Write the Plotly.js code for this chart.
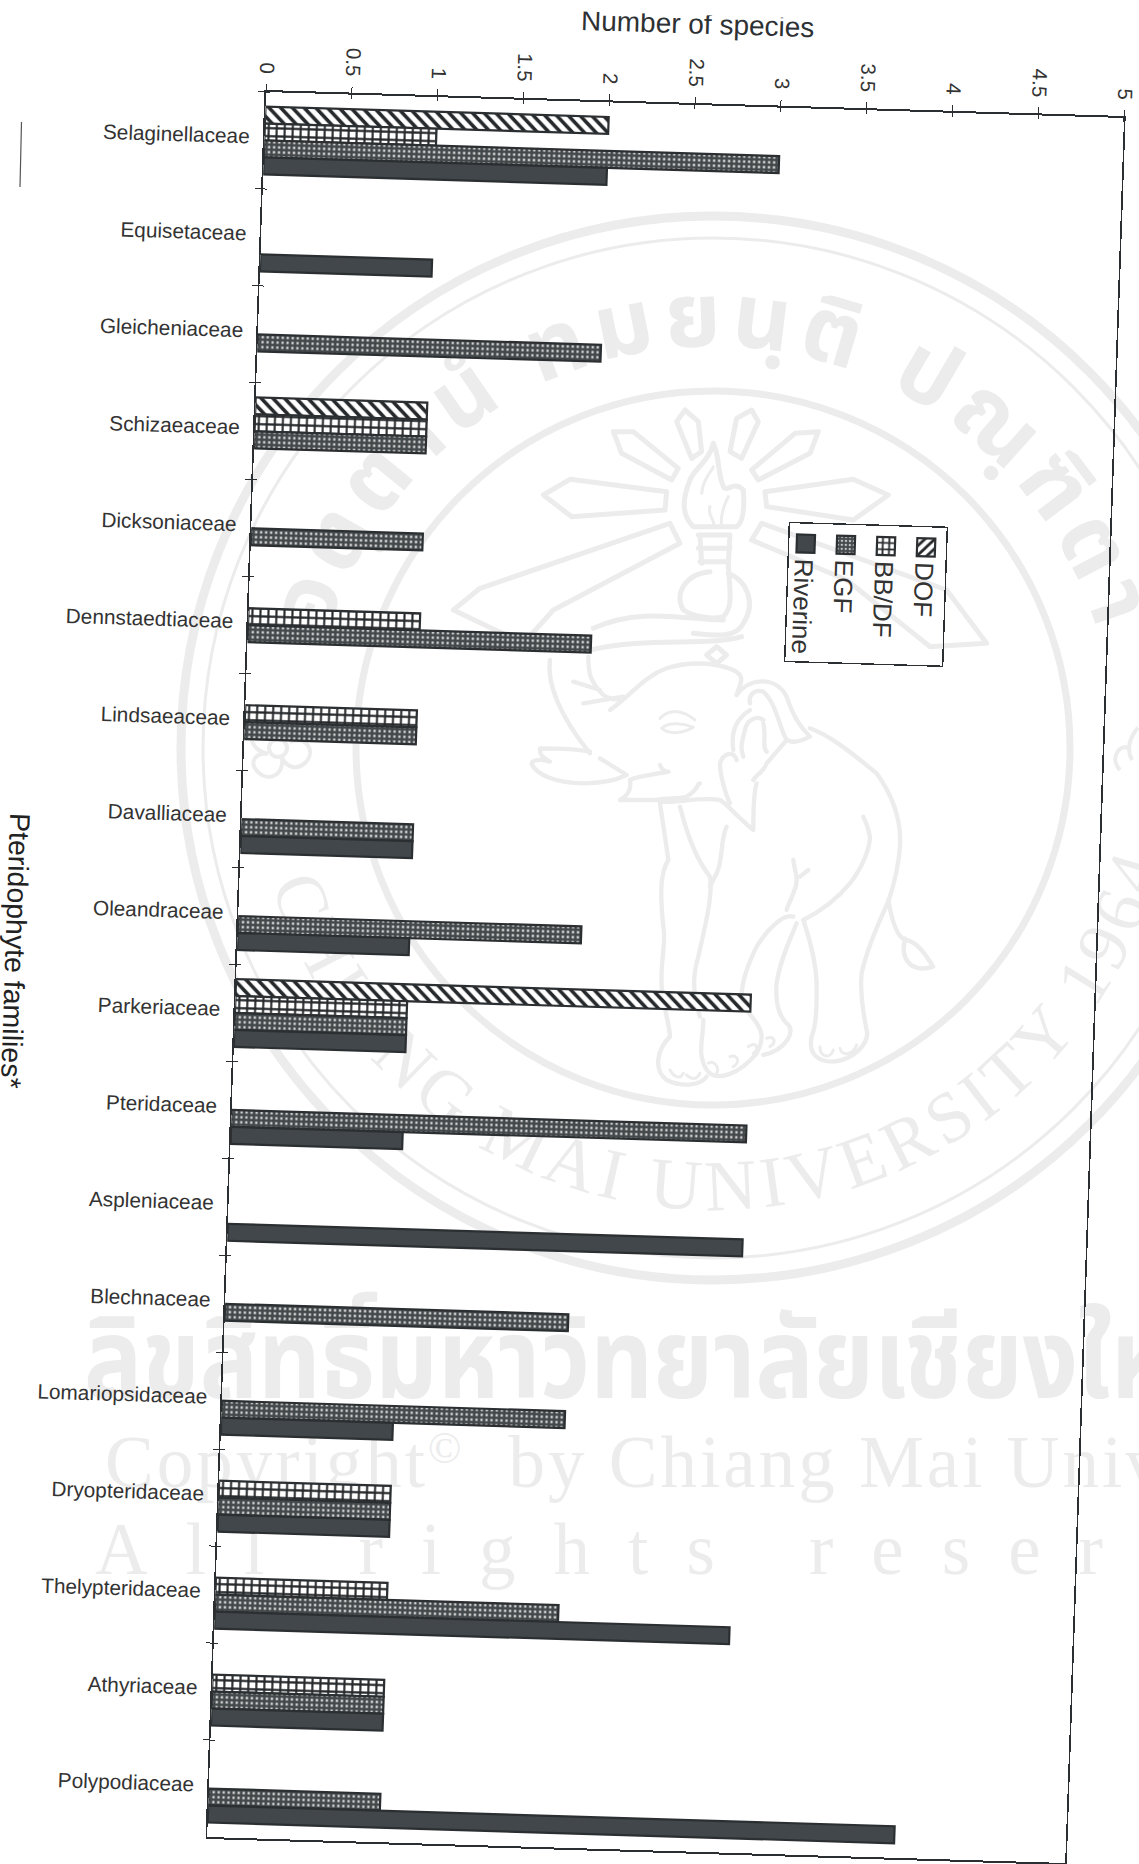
<!DOCTYPE html>
<html>
<head>
<meta charset="utf-8">
<script src="https://cdn.plot.ly/plotly-3.0.1.min.js"></script>
<style>
  html, body { margin: 0; padding: 0; background: #fff; width: 1139px; height: 1864px; overflow: hidden; }
  #seal { position: absolute; left: 0; top: 0; }
  /* The printed page sits slightly skewed on the scanner bed */
  #chart { position: absolute; left: 0; top: 0; transform-origin: 0 0;
           transform: matrix(1, 0.0303, -0.0337, 1, -10.97, -6.48); }
</style>
</head>
<body>
<svg id="seal" width="1139" height="1864" viewBox="0 0 1139 1864" xmlns="http://www.w3.org/2000/svg">
  <defs>
    <path id="arcTop" d="M 311 748 A 402 402 0 0 1 1115 748"/>
    <path id="arcBottom" d="M 251 748 A 462 462 0 0 0 1175 748"/>
  </defs>
  <g fill="none" stroke="#ececec">
    <circle cx="713" cy="748" r="532" stroke-width="9"/>
    <circle cx="713" cy="748" r="510" stroke-width="3"/>
    <circle cx="713" cy="748" r="357" stroke-width="7"/>
  </g>
  <g fill="#ececec">
    <text font-family="'Noto Sans Thai','Noto Sans','DejaVu Sans',sans-serif" font-size="90" font-weight="700" text-anchor="middle" letter-spacing="8">
      <textPath href="#arcTop" startOffset="50%">อตฺตานํ ทมยนฺติ ปณฺฑิตา</textPath>
    </text>
    <text font-family="'Liberation Serif',serif" font-size="72" text-anchor="middle" letter-spacing="6">
      <textPath href="#arcBottom" startOffset="51%">CHIANG MAI UNIVERSITY 1964</textPath>
    </text>
    <text x="84" y="1398" font-family="'Noto Sans Thai','Noto Sans','DejaVu Sans',sans-serif" font-size="112" font-weight="700" textLength="1150" lengthAdjust="spacingAndGlyphs">ลิขสิทธิ์มหาวิทยาลัยเชียงใหม่</text>
    <text x="105" y="1487" font-family="'Liberation Serif',serif" font-size="73" letter-spacing="3">Copyright<tspan font-size="44" dy="-24">©</tspan><tspan dy="24" dx="44">by Chiang Mai University</tspan></text>
    <text x="95" y="1574" font-family="'Liberation Serif',serif" font-size="73" letter-spacing="38">All rights reserved</text>
  </g>
  <!-- University seal: torch with rays -->
  <g transform="translate(480,380) scale(0.3333)" fill="none" stroke="#ececec" stroke-width="15" stroke-linejoin="round" stroke-linecap="round">
    <path d="M615 90 L590 125 L635 235 L665 215 L655 125 Z"/>
    <path d="M815 90 L770 115 L750 215 L785 235 L835 125 Z"/>
    <path d="M400 155 L460 155 L595 265 L575 300 L425 220 Z"/>
    <path d="M1015 155 L945 160 L815 270 L835 300 L990 220 Z"/>
    <path d="M190 345 L270 298 L560 335 L555 390 L275 410 Z"/>
    <path d="M1225 345 L1120 298 L855 335 L860 380 L1120 420 Z"/>
    <path d="M-80 690 L0 625 L570 430 L600 490 L220 690 L130 790 Z"/>
    <path d="M815 480 L845 430 L1400 630 L1520 790 L1350 800 L1100 600 Z"/>
    <path d="M700 190 C690 240 640 270 630 300 C610 350 600 400 640 440 L770 440 C800 420 790 340 790 330 C760 300 740 340 730 320 C710 270 720 230 700 190"/>
    <path d="M690 380 C680 410 710 420 700 440 M665 340 C670 290 700 270 700 260 M745 350 C730 380 720 410 725 440" stroke-width="9"/>
    <path d="M655 465 H750 M655 505 H750 M660 545 H745 M660 465 L665 550 M750 465 L745 550"/>
    <path d="M690 575 C620 580 580 640 610 690 C640 710 700 720 730 710 C760 680 750 640 745 555"/>
    <path d="M745 580 C800 600 830 670 790 730 C770 770 720 770 640 760"/>
    <path d="M340 745 C480 680 620 720 730 720 M330 810 C500 770 680 800 785 770"/>
    <path d="M680 825 L710 800 L740 825 L710 850 Z"/>
  </g>
  <!-- University seal: elephant outline -->
  <g transform="translate(500,640) scale(0.3333)" fill="none" stroke="#ececec" stroke-width="13" stroke-linejoin="round" stroke-linecap="round">
    <path d="M150 60 C140 130 180 230 270 340"/>
    <path d="M270 335 C220 325 150 325 120 325 C118 345 130 355 150 365 C120 355 95 360 95 372 C110 405 170 430 250 430 C310 430 350 420 380 405 L300 355"/>
    <path d="M265 50 C265 100 270 125 310 165 C330 180 350 180 370 175 M220 125 L300 150 M250 190 L370 170"/>
    <path d="M330 210 C400 160 430 110 500 85 C560 65 640 65 700 90 C740 110 720 130 710 165"/>
    <path d="M710 165 C750 110 830 110 860 170 C880 230 900 260 930 290 C900 305 880 310 860 300 C840 270 830 190 790 155 C760 145 745 170 750 190"/>
    <path d="M750 210 C720 230 690 260 700 330 M790 240 C770 225 740 240 735 270 C725 310 720 320 730 350 M790 250 C800 290 785 320 800 335"/>
    <path d="M930 265 C1000 290 1080 360 1130 400 C1180 470 1205 540 1200 620 C1195 690 1180 740 1165 785"/>
    <path d="M1165 780 C1175 840 1190 890 1215 900 C1250 900 1280 950 1300 980 C1270 990 1230 990 1215 950 C1205 920 1215 910 1215 895"/>
    <path d="M1165 785 C1130 860 1100 930 1085 1000 C1080 1050 1090 1120 1100 1170 C1110 1210 1060 1260 1000 1265 C950 1265 925 1240 935 1190 C950 1150 950 1100 950 1040 C950 980 930 900 910 840"/>
    <path d="M910 840 C950 820 1000 790 1050 730 C1090 680 1110 620 1110 590 C1105 560 1095 540 1090 530"/>
    <path d="M880 660 C885 700 900 720 880 760 C870 790 860 800 860 810 M900 710 L925 690"/>
    <path d="M880 830 C850 820 800 870 770 920 C740 980 725 1030 725 1070 C730 1110 760 1130 770 1150 C790 1180 790 1200 770 1240 C720 1300 650 1330 620 1290 C590 1240 610 1200 610 1140"/>
    <path d="M890 850 C870 900 840 960 830 1030 C825 1090 840 1130 860 1150 C890 1170 860 1230 790 1245"/>
    <path d="M480 490 C490 560 500 620 505 660 C480 700 480 760 490 860 C500 900 480 970 485 1040 C490 1100 510 1160 510 1190 C470 1230 460 1290 500 1320 C540 1340 600 1340 620 1310"/>
    <path d="M540 500 C560 580 590 660 630 710 C640 770 610 880 595 950 C580 1000 575 1050 600 1130"/>
    <path d="M680 560 C660 600 670 660 650 700 C640 720 635 730 630 740"/>
    <path d="M480 375 C490 400 510 395 505 395 C450 405 410 410 390 420 C395 450 380 470 360 480 L470 480 C500 470 530 480 560 470 C600 445 590 430 600 430"/>
    <path d="M480 485 C530 490 600 470 660 480 C680 490 700 520 760 570 C760 520 760 460 770 430"/>
    <path d="M660 370 C660 410 680 470 690 490 M660 370 C670 340 700 330 710 360 M760 420 C770 400 790 400 800 370 L860 300"/>
    <path d="M485 265 C500 250 540 245 580 262 C550 280 510 285 485 265 M480 235 C510 205 550 210 585 240" stroke-width="9"/>
    <path d="M510 1290 C520 1310 540 1320 550 1300 M560 1305 C575 1320 590 1320 600 1300 M650 1300 C660 1280 640 1260 625 1270 M700 1280 C720 1270 715 1240 690 1250 M760 1240 C780 1230 770 1200 745 1220 M810 1220 C830 1210 825 1185 800 1195 M960 1220 C960 1250 990 1260 1000 1230 M1020 1225 C1025 1250 1060 1245 1070 1215" stroke-width="9"/>
  </g>
  <!-- Corner flowers in the seal band -->
  <g fill="none" stroke="#ececec" stroke-width="4">
    <circle cx="278" cy="748" r="9"/>
    <path d="M278 722 C296 722 298 738 290 742 C306 736 316 750 306 762 C296 772 286 766 282 758 C284 776 268 782 258 772 C248 762 256 752 268 754 C252 750 246 736 258 728 C266 722 274 728 276 738"/>
    <path d="M1132 760 C1122 742 1140 726 1139 726 M1120 770 C1110 760 1118 744 1128 748"/>
  </g>
  <!-- Stray pen mark in the page margin -->
  <path d="M21.5 122 L20 187" stroke="#555" stroke-width="1.2" fill="none"/>
</svg>
<div id="chart"></div>
<script>
// Species counts per pteridophyte family in four forest types
const families = ['Selaginellaceae','Equisetaceae','Gleicheniaceae','Schizaeaceae','Dicksoniaceae',
  'Dennstaedtiaceae','Lindsaeaceae','Davalliaceae','Oleandraceae','Parkeriaceae','Pteridaceae',
  'Aspleniaceae','Blechnaceae','Lomariopsidaceae','Dryopteridaceae','Thelypteridaceae','Athyriaceae','Polypodiaceae'];
const dof      = [2,null,null,1,null,null,null,null,null,3,null,null,null,null,null,null,null,null];
const bbdf     = [1,null,null,1,null,1,1,null,null,1,null,null,null,null,1,1,1,null];
const egf      = [3,null,2,1,1,2,1,1,2,1,3,null,2,2,1,2,1,1];
const riverine = [2,1,null,null,null,null,null,1,1,1,1,3,null,1,1,3,1,4];
const xTicks = [0,0.5,1,1.5,2,2.5,3,3.5,4,4.5,5];

const INK = '#2b2f31';
const outline = { color: INK, width: 2.2 };

function series(name, values, marker) {
  return { type: 'bar', orientation: 'h', name: name, x: values, y: families, legendgroup: name,
           marker: Object.assign({ line: outline }, marker) };
}

const traces = [
  series('DOF', dof, { color: '#fff', pattern: { shape: '\\', size: 8.5, solidity: 0.42, fgcolor: '#26292b', bgcolor: '#fff' } }),
  series('BB/DF', bbdf, { color: '#fff', pattern: { shape: '+', size: 8, solidity: 0.45, fgcolor: '#26292b', bgcolor: '#fff' } }),
  series('EGF', egf, { color: '#555', pattern: { shape: '+', size: 5, solidity: 0.78, fgcolor: '#43484b', bgcolor: '#cfcfcf' } }),
  series('Riverine', riverine, { color: '#41474a' })
];

const layout = {
  width: 1200, height: 1920,
  margin: { l: 280, r: 62, t: 90, b: 85 },
  paper_bgcolor: 'rgba(0,0,0,0)', plot_bgcolor: 'rgba(0,0,0,0)',
  font: { family: "'Liberation Sans', Arial, sans-serif", color: '#333' },
  barmode: 'group', bargap: 0.3, bargroupgap: 0,
  xaxis: {
    side: 'top', range: [0, 5], tickvals: xTicks, ticktext: xTicks.map(String),
    tickangle: 90, ticks: 'outside', ticklen: 6, tickwidth: 1, tickcolor: INK, ticklabelstandoff: 3,
    tickfont: { size: 20.5, color: '#333' }, showgrid: false, zeroline: false,
    showline: true, mirror: true, linecolor: INK, linewidth: 2,
    title: { text: 'Number of species', font: { size: 28, color: '#2e3133' } }
  },
  yaxis: {
    autorange: 'reversed', type: 'category', tickson: 'boundaries',
    ticks: 'outside', ticklen: 6, tickwidth: 1, tickcolor: INK, ticklabelstandoff: 9,
    tickfont: { size: 20.8, color: '#333' }, showgrid: false, zeroline: false,
    showline: true, mirror: true, linecolor: INK, linewidth: 1.6
  },
  annotations: [{
    text: 'Pteridophyte families*', textangle: 90, showarrow: false,
    xref: 'paper', yref: 'paper', x: (59 - 280) / 858, y: 1 - (955.7 - 90) / 1745,
    xanchor: 'center', yanchor: 'middle',
    font: { size: 28.5, color: '#222' }
  }],
  showlegend: true,
  legend: {
    x: 0.8, y: 0.7, xanchor: 'left', yanchor: 'top', traceorder: 'grouped', tracegroupgap: 3.3,
    bgcolor: 'rgba(0,0,0,0)', bordercolor: INK, borderwidth: 1.4,
    font: { size: 26, color: '#333' }
  }
};

Plotly.newPlot('chart', traces, layout, { staticPlot: true, displayModeBar: false }).then(function () {
  const root = document.getElementById('chart');

  // Tick marks straddle the axis line on this chart
  root.querySelectorAll('path.xtick, path.ytick, path.ticks').forEach(function (p) {
    const m = /^M(-?[\d.]+),(-?[\d.]+)([vh])(-?[\d.]+)$/.exec(p.getAttribute('d') || '');
    if (!m) return;
    const x = +m[1], y = +m[2], len = +m[4];
    p.setAttribute('d', m[3] === 'v'
      ? 'M' + x + ',' + (y - len) + 'v' + (2 * len)
      : 'M' + (x - len) + ',' + y + 'h' + (2 * len));
  });

  // Family names sit a little above the middle of their band
  root.querySelectorAll('.ytick text').forEach(function (t) {
    t.setAttribute('y', (parseFloat(t.getAttribute('y')) || 0) - 4);
  });

  // Legend turned a quarter clockwise, with larger swatches and a tighter box
  const legend = root.querySelector('.legend');
  legend.querySelectorAll('.legendpoints path').forEach(function (p) {
    p.setAttribute('d', 'M9,9H-9V-9H9Z');
  });
  legend.querySelectorAll('.legendtext').forEach(function (t) {
    t.setAttribute('x', (parseFloat(t.getAttribute('x')) || 0) - 5);
  });
  const box = legend.querySelector('rect.bg');
  box.setAttribute('width', 139);
  box.setAttribute('height', 158);
  const scroll = legend.querySelector('.scrollbox');
  if (scroll) {
    scroll.setAttribute('transform', 'translate(0,-3.5)');
    scroll.removeAttribute('clip-path');
    scroll.style.clipPath = 'none';
  }
  legend.setAttribute('transform', 'translate(976,503.5) rotate(90)');

  // Axis title above the tick labels
  const xt = root.querySelector('.xtitle');
  xt.setAttribute('y', 2.5);
  xt.setAttribute('x', 709);
});
</script>
</body>
</html>
